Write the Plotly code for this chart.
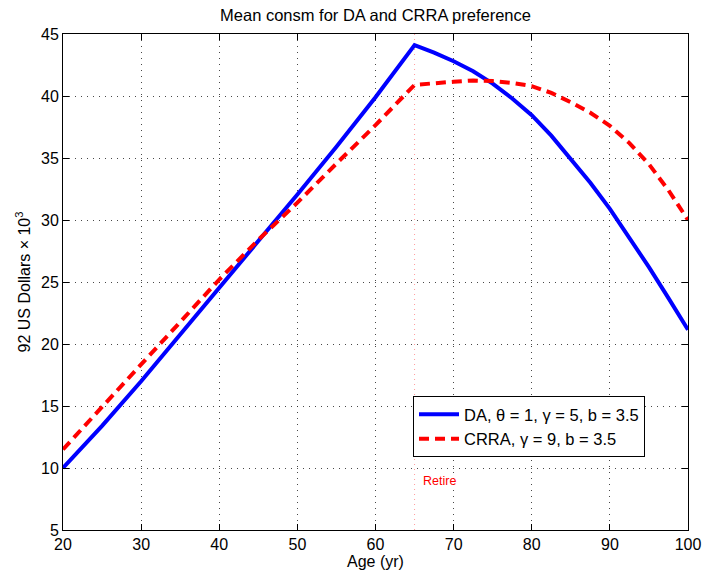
import plotly.graph_objects as go

# Data
ages_da = [20, 25, 30, 35, 40, 45, 50, 55, 60, 65, 67.5, 70, 72.5, 75, 77.5, 80,
           82.5, 85, 87.5, 90, 92.5, 95, 97.5, 100]
cons_da = [10.0, 13.4, 17.0, 20.8, 24.6, 28.3, 32.05, 35.9, 39.9, 44.1, 43.5, 42.8,
           42.0, 41.0, 39.8, 38.45, 36.8, 34.9, 33.0, 30.9, 28.6, 26.2, 23.7, 21.15]

ages_crra = [20, 25, 30, 35, 40, 45, 50, 55, 60, 65, 67.5, 70, 72.5, 75, 77.5, 80,
             82.5, 85, 87.5, 90, 92.5, 95, 97.5, 100]
cons_crra = [11.5, 14.9, 18.3, 21.8, 25.2, 28.4, 31.4, 34.55, 37.65, 40.9, 41.05, 41.15,
             41.25, 41.2, 41.05, 40.8, 40.25, 39.5, 38.65, 37.6, 36.2, 34.5, 32.4, 30.0]

retire_age = 65
x_ticks = [20, 30, 40, 50, 60, 70, 80, 90, 100]
y_ticks = [5, 10, 15, 20, 25, 30, 35, 40, 45]

FONT = "Liberation Sans, Arial, Helvetica, sans-serif"

fig = go.Figure()
fig.add_trace(go.Scatter(
    x=ages_da, y=cons_da, mode="lines",
    name="DA, \u03b8 = 1, \u03b3 = 5, b = 3.5",
    line=dict(color="#0000FF", width=4),
))
fig.add_trace(go.Scatter(
    x=ages_crra, y=cons_crra, mode="lines",
    name="CRRA, \u03b3 = 9, b = 3.5",
    line=dict(color="#FF0000", width=4, dash="10px,6px"),
))

fig.add_shape(type="line", xref="x", yref="y", x0=retire_age, x1=retire_age, y0=5, y1=45,
              line=dict(color="rgba(255,90,90,0.6)", width=1, dash="1px,4px"), layer="below")
fig.add_annotation(x=retire_age + 0.85, y=8.95, xref="x", yref="y", text="Retire",
                   showarrow=False, xanchor="left", yanchor="middle",
                   font=dict(color="#FF0000", size=12.5, family=FONT))

axis_common = dict(
    showline=True, linecolor="black", linewidth=1, mirror="ticks",
    ticks="inside", ticklen=6, tickcolor="black", tickwidth=1,
    showgrid=True, gridcolor="rgba(40,40,40,0.85)", griddash="1px,5px", gridwidth=1,
    zeroline=False, tickfont=dict(size=16, color="black", family=FONT),
    automargin=False,
)

fig.update_xaxes(range=[20, 100], tickvals=x_ticks,
                 title=dict(text="Age (yr)", font=dict(size=16, color="black", family=FONT), standoff=2),
                 **axis_common)
fig.update_yaxes(range=[5, 45], tickvals=y_ticks,
                 title=dict(text="92 US Dollars \u00d7 10<sup>3</sup>",
                            font=dict(size=16, color="black", family=FONT), standoff=6),
                 **axis_common)

fig.update_layout(
    width=704, height=575,
    margin=dict(l=63, r=16, t=34, b=45, autoexpand=False),
    paper_bgcolor="white", plot_bgcolor="white",
    title=dict(text="Mean consm for DA and CRRA preference", x=(63 + 688) / 2 / 704, xanchor="center",
               y=1 - 15 / 575, yanchor="middle",
               font=dict(size=16.5, color="black", family=FONT)),
    legend=dict(x=0.56, y=0.27, xanchor="left", yanchor="top",
                bgcolor="white", bordercolor="black", borderwidth=1,
                font=dict(size=16.5, color="black", family=FONT),
                itemwidth=40, tracegroupgap=0),
    showlegend=True,
)

fig.write_html("out.html")
